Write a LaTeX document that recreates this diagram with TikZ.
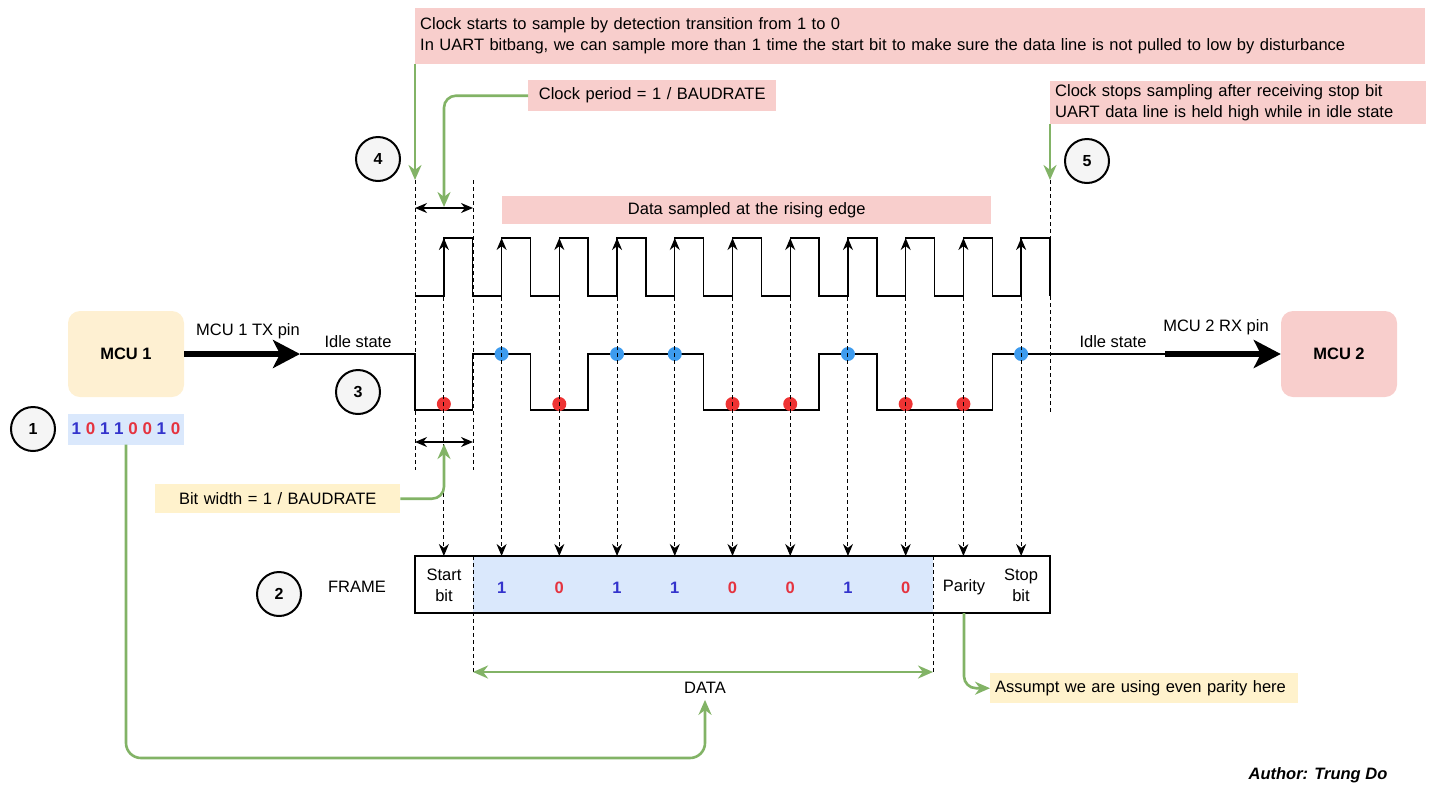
\documentclass[tikz,border=0pt]{standalone}
\usepackage{fontspec}
\setmainfont{Liberation Sans}
\usetikzlibrary{arrows.meta,calc}
\definecolor{pinkf}{HTML}{F8CECC}
\definecolor{yellowf}{HTML}{FFF2CC}
\definecolor{mcuonef}{HTML}{FEF0D2}
\definecolor{bluef}{HTML}{DAE8FC}
\definecolor{greenl}{HTML}{82B366}
\definecolor{bitblue}{HTML}{3333CC}
\definecolor{bitred}{HTML}{E5333F}
\definecolor{dotred}{HTML}{EE3333}
\definecolor{dotblue}{HTML}{3D9BEE}
\definecolor{circf}{HTML}{F5F5F5}
\tikzset{
  txt/.style={font=\fontsize{16.5}{21}\selectfont, inner sep=0pt},
  note/.style={font=\fontsize{16.5}{21}\selectfont, anchor=north west, inner xsep=5pt, inner ysep=0pt},
  numcirc/.style={circle, draw, line width=2pt, fill=circf, minimum size=44pt, inner sep=0pt, font=\fontsize{16}{18}\selectfont\bfseries},
  mcubox/.style={rounded corners=12pt, minimum width=116pt, minimum height=86pt, font=\fontsize{16.5}{18}\selectfont\bfseries, inner sep=0pt},
  wave/.style={line width=1.4pt},
  dashline/.style={line width=1pt, dash pattern=on 4pt off 3pt},
  blacktip/.style={-{Stealth[length=12pt,width=10pt]}},
  dbltip/.style={{Stealth[length=12pt,width=10pt]}-{Stealth[length=12pt,width=10pt]}, line width=1.4pt},
  garrow/.style={draw=greenl, line width=2.6pt, rounded corners=12pt, -{Stealth[length=15pt,width=13pt]}},
  thick arrow/.style={line width=6pt, -{Stealth[length=27pt,width=28pt,inset=7pt]}},
}
\begin{document}
\begin{tikzpicture}[x=1pt,y=-1pt]
\useasboundingbox (0,0) rectangle (1440,793);
\def\bw{57.727}
% notes
\node[note, fill=pinkf, minimum width=1010pt, minimum height=56pt, text width=1000pt, align=left] (topnote) at (415,8)
  {Clock starts to sample by detection transition from 1 to 0\\In UART bitbang, we can sample more than 1 time the start bit to make sure the data line is not pulled to low by disturbance};
\node[note, fill=pinkf, minimum width=248pt, minimum height=31pt, text width=238pt, align=center] (cpnote) at (528,80) {Clock period = 1 / BAUDRATE};
\node[note, fill=pinkf, minimum width=376pt, minimum height=43pt, text width=366pt, align=left] (stopnote) at (1050,81)
  {Clock stops sampling after receiving stop bit\\UART data line is held high while in idle state};
\node[note, fill=pinkf, minimum width=489pt, minimum height=28pt, text width=479pt, align=center] (dsnote) at (502,196) {Data sampled at the rising edge};
\node[note, fill=yellowf, minimum width=245pt, minimum height=29pt, text width=235pt, align=center] (bwnote) at (155,484) {Bit width = 1 / BAUDRATE};
\node[note, fill=yellowf, minimum width=308pt, minimum height=30pt, text width=298pt, align=left] (pnote) at (990,673) {Assumpt we are using even parity here};

% circles
\node[numcirc] (c1) at (33,429) {1};
\node[numcirc] (c2) at (279,594) {2};
\node[numcirc] (c3) at (358,392) {3};
\node[numcirc] (c4) at (378,159) {4};
\node[numcirc] (c5) at (1087,161) {5};

% MCU boxes
\node[mcubox, fill=mcuonef] (mcu1) at (126,354) {MCU 1};
\node[mcubox, fill=pinkf] (mcu2) at (1339,354) {MCU 2};
\node[fill=bluef, minimum width=116pt, minimum height=31pt, inner sep=0pt, font=\fontsize{17}{18}\selectfont\bfseries] (bits) at (126,429)
  {\textcolor{bitblue}{1} \textcolor{bitred}{0} \textcolor{bitblue}{1} \textcolor{bitblue}{1} \textcolor{bitred}{0} \textcolor{bitred}{0} \textcolor{bitblue}{1} \textcolor{bitred}{0}};

\coordinate (tx) at (300,354);
\coordinate (rx) at (1165,354);
\draw[thick arrow] (mcu1.east) -- (tx);
\draw[thick arrow] (rx) -- (mcu2.west);
\node[txt] (txl) at (248,331) {MCU 1 TX pin};
\node[txt] (rxl) at (1216,327) {MCU 2 RX pin};
\node[txt] (idle1) at (358,342) {Idle state};
\node[txt] (idle2) at (1113,342) {Idle state};

% frame
\fill[bluef] (473,556) rectangle (933,613);
\draw[line width=1.4pt] (415,556) rectangle (1050,613);
\node[txt] (framel) at (357,587) {FRAME};
\node[txt, align=center] (fstart) at (444,585) {Start\\bit};
\node[txt, align=center] (fstop) at (1021,585) {Stop\\bit};
\node[txt] (fpar) at (964,587) {Parity};
\foreach \i/\v in {1/1,2/0,3/1,4/1,5/0,6/0,7/1,8/0}{
  \ifnum\v=1 \def\cc{bitblue}\else\def\cc{bitred}\fi
  \node[txt, font=\fontsize{16.5}{18}\selectfont\bfseries, text=\cc] (fb\i) at ({415+(\i+0.5)*\bw},588) {\v};
}

% clock waveform
\draw[wave] (415,296) \foreach \i in {0,...,10}{
   -- ({415+(\i+0.5)*\bw},296) -- ({415+(\i+0.5)*\bw},238) -- ({415+(\i+1)*\bw},238) -- ({415+(\i+1)*\bw},296)};
\foreach \i in {0,...,10}{
  \draw[wave, blacktip] ({415+(\i+0.5)*\bw},296) -- ({415+(\i+0.5)*\bw},238);
}

% data waveform
\draw[wave] (tx) -- (415,354) -- (415,410) -- ({415+1*\bw},410) -- ({415+1*\bw},354) -- ({415+2*\bw},354)
  -- ({415+2*\bw},410) -- ({415+3*\bw},410) -- ({415+3*\bw},354) -- ({415+5*\bw},354) -- ({415+5*\bw},410)
  -- ({415+7*\bw},410) -- ({415+7*\bw},354) -- ({415+8*\bw},354) -- ({415+8*\bw},410) -- ({415+10*\bw},410)
  -- ({415+10*\bw},354) -- (rx);

% sample dots
\foreach \i/\v in {0/0,1/1,2/0,3/1,4/1,5/0,6/0,7/1,8/0,9/0,10/1}{
  \ifnum\v=1
    \fill[dotblue] ({415+(\i+0.5)*\bw},354) circle (7pt);
  \else
    \fill[dotred] ({415+(\i+0.5)*\bw},404) circle (7pt);
  \fi
}

% sampling lines
\foreach \i in {0,...,10}{
  \draw[dashline, blacktip] ({415+(\i+0.5)*\bw},297) -- ({415+(\i+0.5)*\bw},556);
}

% boundary dashed lines
\draw[dashline] (415,180) -- (415,470);
\draw[dashline] (473,180) -- (473,470);
\draw[dashline] (1050,180) -- (1050,238);
\draw[dashline] (1050,296) -- (1050,412);
\draw[dashline] (473,556) -- (473,672);
\draw[dashline] (933,556) -- (933,672);

% width markers
\coordinate (m1l) at (415,208); \coordinate (m1r) at (473,208);
\coordinate (m2l) at (415,442); \coordinate (m2r) at (473,442);
\draw[dbltip] (m1l) -- (m1r);
\draw[dbltip] (m2l) -- (m2r);

% green connectors
\coordinate (t4) at (415,180);
\coordinate (t5) at (1050,180);
\coordinate (cp4) at (444,207);
\coordinate (bw4) at (444,444);
\draw[garrow] (topnote.south west) -- (t4);
\draw[garrow] (stopnote.south west) -- (t5);
\draw[garrow] (cpnote.west) -| (cp4);
\draw[garrow] (bwnote.east) -| (bw4);

\coordinate (dl) at (473,672);
\coordinate (dr) at (933,672);
\draw[garrow, {Stealth[length=15pt,width=13pt]}-{Stealth[length=15pt,width=13pt]}] (dl) -- (dr);
\node[txt] (datal) at (705,688) {DATA};
\coordinate (dbot) at (705,758);
\draw[garrow, rounded corners=15pt] (bits.south) |- (dbot) -- ($(datal.south)+(0,6)$);
\coordinate (parbot) at (964,613);
\draw[garrow] (parbot) |- (pnote.west);

\node[txt, font=\fontsize{16.5}{18}\selectfont\bfseries\itshape] (author) at (1318,775) {Author: Trung Do};
\end{tikzpicture}
\end{document}
